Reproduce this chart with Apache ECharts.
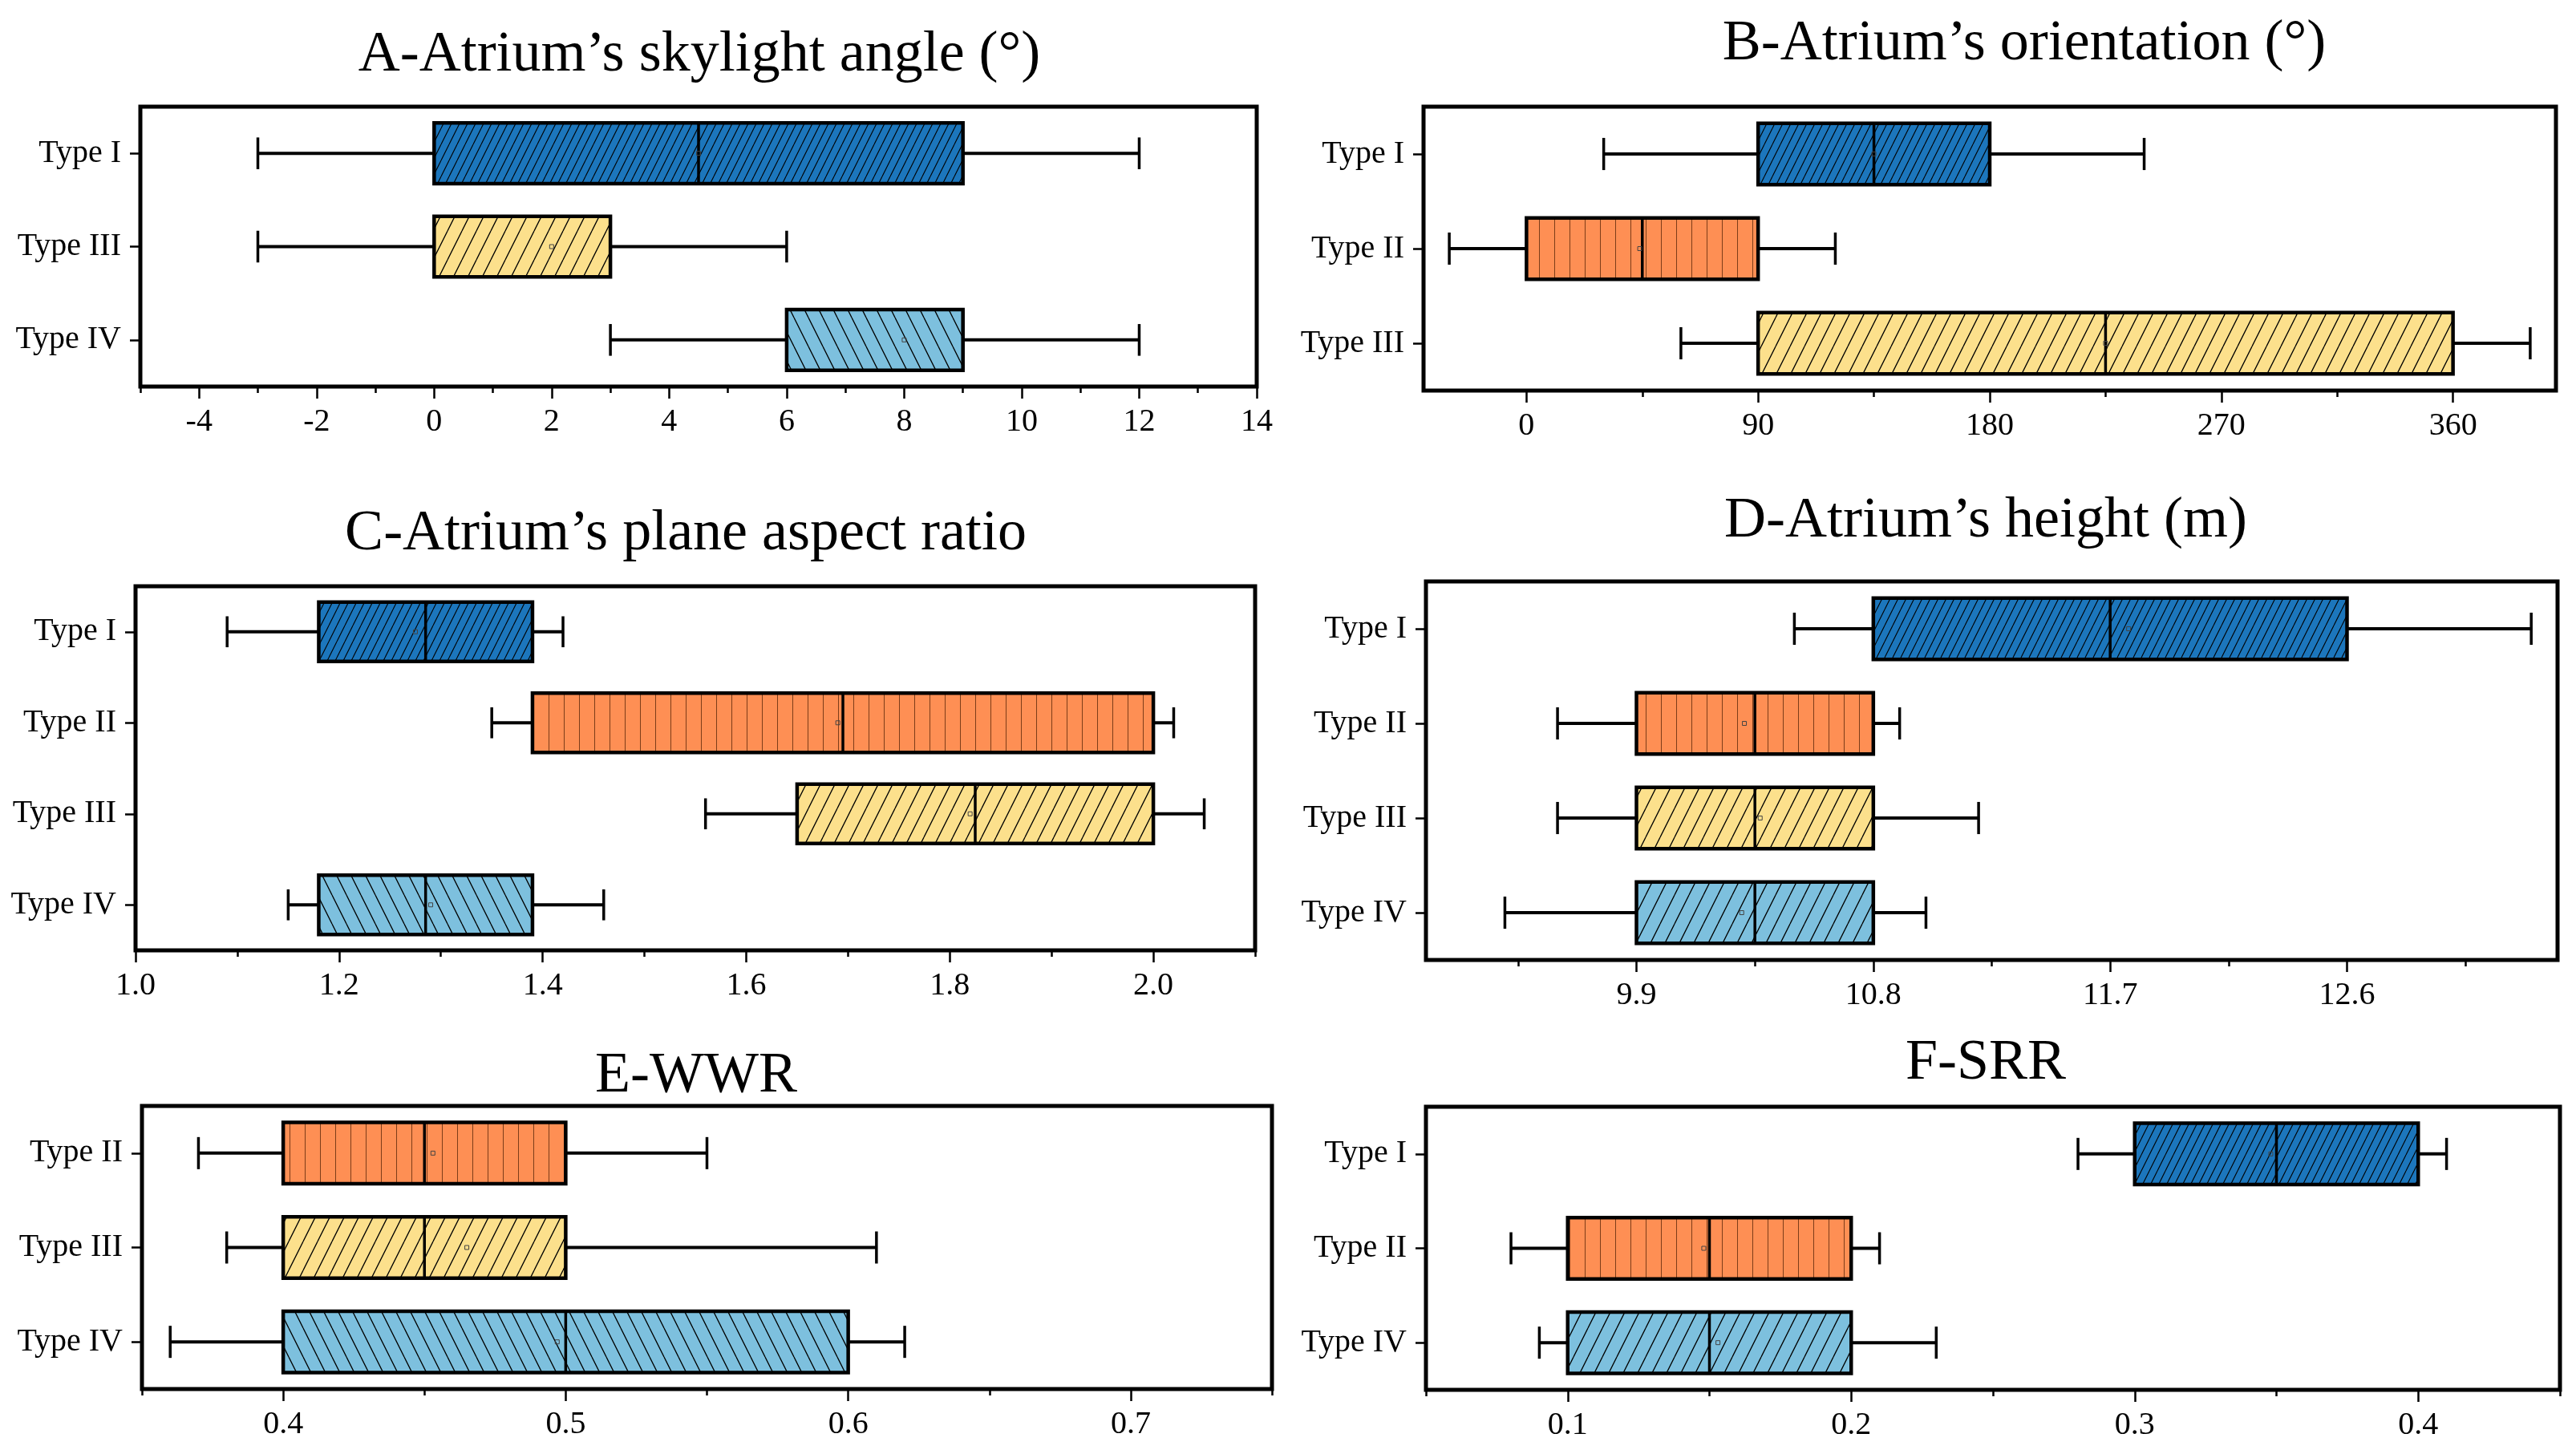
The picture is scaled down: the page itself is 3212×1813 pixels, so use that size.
<!DOCTYPE html>
<html>
<head>
<meta charset="utf-8">
<script src="https://cdn.jsdelivr.net/npm/echarts@6/dist/echarts.min.js"></script>
<style>
html,body{margin:0;padding:0;background:#fff;}
#chart{width:3212px;height:1813px;}
</style>
</head>
<body>
<div id="chart"></div>
<script>
// ---------------- DATA ----------------
// Panel A – Atrium's skylight angle (°)
const A_title = 'A-Atrium’s skylight angle (°)';
const A_types = ['Type I', 'Type III', 'Type IV'];
const A_low    = [-3, -3, 3];
const A_q1     = [0, 0, 6];
const A_median = [4.5, 3, 9];
const A_q3     = [9, 3, 9];
const A_high   = [12, 6, 12];
const A_mean   = [4.5, 2, 8];
const A_range  = [-5, 14];
const A_ticks  = [-4, -2, 0, 2, 4, 6, 8, 10, 12, 14];
const A_minor  = [-5, -3, -1, 1, 3, 5, 7, 9, 11, 13];

// Panel B – Atrium's orientation (°)
const B_title = 'B-Atrium’s orientation (°)';
const B_types = ['Type I', 'Type II', 'Type III'];
const B_low    = [30, -30, 60];
const B_q1     = [90, 0, 90];
const B_median = [135, 45, 225];
const B_q3     = [180, 90, 360];
const B_high   = [240, 120, 390];
const B_mean   = [135, 44, 225];
const B_range  = [-40, 400];
const B_ticks  = [0, 90, 180, 270, 360];
const B_minor  = [45, 135, 225, 315];

// Panel C – Atrium's plane aspect ratio
const C_title = 'C-Atrium’s plane aspect ratio';
const C_types = ['Type I', 'Type II', 'Type III', 'Type IV'];
const C_low    = [1.09, 1.35, 1.56, 1.15];
const C_q1     = [1.18, 1.39, 1.65, 1.18];
const C_median = [1.285, 1.695, 1.825, 1.285];
const C_q3     = [1.39, 2.0, 2.0, 1.39];
const C_high   = [1.42, 2.02, 2.05, 1.46];
const C_mean   = [1.275, 1.69, 1.82, 1.29];
const C_range  = [1.0, 2.1];
const C_ticks  = [1.0, 1.2, 1.4, 1.6, 1.8, 2.0];
const C_minor  = [1.1, 1.3, 1.5, 1.7, 1.9, 2.1];

// Panel D – Atrium's height (m)
const D_title = 'D-Atrium’s height (m)';
const D_types = ['Type I', 'Type II', 'Type III', 'Type IV'];
const D_low    = [10.5, 9.6, 9.6, 9.4];
const D_q1     = [10.8, 9.9, 9.9, 9.9];
const D_median = [11.7, 10.35, 10.35, 10.35];
const D_q3     = [12.6, 10.8, 10.8, 10.8];
const D_high   = [13.3, 10.9, 11.2, 11.0];
const D_mean   = [11.77, 10.31, 10.37, 10.3];
const D_range  = [9.1, 13.4];
const D_ticks  = [9.9, 10.8, 11.7, 12.6];
const D_minor  = [9.45, 10.35, 11.25, 12.15, 13.05];

// Panel E – WWR
const E_title = 'E-WWR';
const E_types = ['Type II', 'Type III', 'Type IV'];
const E_low    = [0.37, 0.38, 0.36];
const E_q1     = [0.4, 0.4, 0.4];
const E_median = [0.45, 0.45, 0.5];
const E_q3     = [0.5, 0.5, 0.6];
const E_high   = [0.55, 0.61, 0.62];
const E_mean   = [0.453, 0.465, 0.497];
const E_range  = [0.35, 0.75];
const E_ticks  = [0.4, 0.5, 0.6, 0.7];
const E_minor  = [0.35, 0.45, 0.55, 0.65, 0.75];

// Panel F – SRR
const F_title = 'F-SRR';
const F_types = ['Type I', 'Type II', 'Type IV'];
const F_low    = [0.28, 0.08, 0.09];
const F_q1     = [0.3, 0.1, 0.1];
const F_median = [0.35, 0.15, 0.15];
const F_q3     = [0.4, 0.2, 0.2];
const F_high   = [0.41, 0.21, 0.23];
const F_mean   = [0.348, 0.148, 0.153];
const F_range  = [0.05, 0.45];
const F_ticks  = [0.1, 0.2, 0.3, 0.4];
const F_minor  = [0.05, 0.15, 0.25, 0.35, 0.45];

// ---------------- STYLE ----------------
const FONT = '"Liberation Serif", "Times New Roman", serif';

// diagonal hatch tile: horizontal period p, slope 2 (about 63 deg)
function hatchCanvas(kind, p, lineColor, lw) {
  const c = document.createElement('canvas');
  const H = (kind === 'vert') ? p : 2 * p;
  c.width = p; c.height = H;
  const g = c.getContext('2d');
  g.strokeStyle = lineColor;
  g.lineWidth = lw;
  g.beginPath();
  if (kind === 'fwd') {
    for (let k = -2; k <= 2; k++) { g.moveTo(k * p, H); g.lineTo(k * p + p, 0); }
  } else if (kind === 'back') {
    for (let k = -2; k <= 2; k++) { g.moveTo(k * p, 0); g.lineTo(k * p + p, H); }
  } else {
    g.moveTo(0.5, 0); g.lineTo(0.5, H);
  }
  g.stroke();
  return c;
}
const PAT = {
  dense: hatchCanvas('fwd', 10, '#000', 1.1),
  fwd: hatchCanvas('fwd', 18, '#000', 1.3),
  back: hatchCanvas('back', 18, '#000', 1.3),
  vert: hatchCanvas('vert', 19, 'rgba(70,25,0,0.7)', 1)
};
const TYPE_STYLE = {
  'Type I':   { color: '#1C76BC', pat: 'dense' },
  'Type II':  { color: '#FE8F54', pat: 'vert' },
  'Type III': { color: '#FCE08C', pat: 'fwd' },
  'Type IV':  { color: '#7DC0DE', pat: 'back' }
};

const panels = [
  { title: A_title, types: A_types, low: A_low, q1: A_q1, med: A_median, q3: A_q3, high: A_high, mean: A_mean,
    range: A_range, ticks: A_ticks, minor: A_minor, ivPat: 'back',
    grid: { left: 175, top: 133, width: 1392, height: 349 }, tx: 872, ty: 69 },
  { title: B_title, types: B_types, low: B_low, q1: B_q1, med: B_median, q3: B_q3, high: B_high, mean: B_mean,
    range: B_range, ticks: B_ticks, minor: B_minor, ivPat: 'back',
    grid: { left: 1775, top: 133, width: 1412, height: 354 }, tx: 2524, ty: 55 },
  { title: C_title, types: C_types, low: C_low, q1: C_q1, med: C_median, q3: C_q3, high: C_high, mean: C_mean,
    range: C_range, ticks: C_ticks, minor: C_minor, ivPat: 'back',
    grid: { left: 169, top: 731, width: 1396, height: 454 }, tx: 855, ty: 666 },
  { title: D_title, types: D_types, low: D_low, q1: D_q1, med: D_median, q3: D_q3, high: D_high, mean: D_mean,
    range: D_range, ticks: D_ticks, minor: D_minor, ivPat: 'fwd',
    grid: { left: 1778, top: 725, width: 1411, height: 472 }, tx: 2476, ty: 650 },
  { title: E_title, types: E_types, low: E_low, q1: E_q1, med: E_median, q3: E_q3, high: E_high, mean: E_mean,
    range: E_range, ticks: E_ticks, minor: E_minor, ivPat: 'back',
    grid: { left: 177, top: 1379, width: 1409, height: 353 }, tx: 868, ty: 1342 },
  { title: F_title, types: F_types, low: F_low, q1: F_q1, med: F_median, q3: F_q3, high: F_high, mean: F_mean,
    range: F_range, ticks: F_ticks, minor: F_minor, ivPat: 'fwd',
    grid: { left: 1778, top: 1380, width: 1414, height: 353 }, tx: 2476, ty: 1326 }
];

function labelFmt(panelIdx) {
  return function (v) {
    if (panelIdx === 2) return Number(v).toFixed(1);
    return String(Math.round(v * 1000) / 1000);
  };
}

function makeRender(panel) {
  return function (params, api) {
    const i = api.value(0);
    const pLo = api.coord([api.value(1), i]);
    const pQ1 = api.coord([api.value(2), i]);
    const pMd = api.coord([api.value(3), i]);
    const pQ3 = api.coord([api.value(4), i]);
    const pHi = api.coord([api.value(5), i]);
    const pMn = api.coord([api.value(6), i]);
    const band = api.size([0, 1])[1];
    const cy = pLo[1];
    const bh = band * 0.65;
    const ch = band * 0.34;
    const tname = panel.types[i];
    const st = TYPE_STYLE[tname];
    const patName = tname === 'Type IV' ? panel.ivPat : st.pat;
    const box = { x: pQ1[0], y: cy - bh / 2, width: pQ3[0] - pQ1[0], height: bh };
    return {
      type: 'group',
      children: [
        { type: 'line', shape: { x1: pLo[0], y1: cy, x2: pQ1[0], y2: cy }, style: { stroke: '#000', lineWidth: 4 } },
        { type: 'line', shape: { x1: pQ3[0], y1: cy, x2: pHi[0], y2: cy }, style: { stroke: '#000', lineWidth: 4 } },
        { type: 'line', shape: { x1: pLo[0], y1: cy - ch / 2, x2: pLo[0], y2: cy + ch / 2 }, style: { stroke: '#000', lineWidth: 3.5 } },
        { type: 'line', shape: { x1: pHi[0], y1: cy - ch / 2, x2: pHi[0], y2: cy + ch / 2 }, style: { stroke: '#000', lineWidth: 3.5 } },
        { type: 'rect', shape: box, style: { fill: st.color } },
        { type: 'rect', shape: box, style: { fill: { image: PAT[patName], repeat: 'repeat' } } },
        { type: 'rect', shape: box, style: { fill: 'none', stroke: '#000', lineWidth: 4.5 } },
        { type: 'line', shape: { x1: pMd[0], y1: cy - bh / 2, x2: pMd[0], y2: cy + bh / 2 }, style: { stroke: '#000', lineWidth: 3.5 } },
        { type: 'rect', shape: { x: pMn[0] - 2.5, y: cy - 2.5, width: 5, height: 5 }, style: { fill: 'none', stroke: '#444', lineWidth: 1 } }
      ]
    };
  };
}

const option = {
  backgroundColor: '#fff',
  animation: false,
  grid: [], xAxis: [], yAxis: [], series: [], graphic: []
};

panels.forEach((p, k) => {
  option.grid.push(Object.assign({ show: true, borderColor: '#000', borderWidth: 5, backgroundColor: 'transparent' }, p.grid));
  option.xAxis.push({
    type: 'value', gridIndex: k, position: 'bottom', min: p.range[0], max: p.range[1],
    axisLine: { show: false, onZero: false },
    splitLine: { show: false },
    axisTick: { show: true, inside: false, length: 15, customValues: p.ticks, lineStyle: { color: '#000', width: 2.5 } },
    axisLabel: { show: true, customValues: p.ticks, margin: 24, fontSize: 40, fontFamily: FONT, color: '#000',
      formatter: labelFmt(k) }
  });
  option.xAxis.push({
    type: 'value', gridIndex: k, position: 'bottom', min: p.range[0], max: p.range[1],
    axisLine: { show: false, onZero: false },
    splitLine: { show: false },
    axisTick: { show: true, inside: false, length: 8, customValues: p.minor, lineStyle: { color: '#000', width: 2.5 } },
    axisLabel: { show: false }
  });
  option.yAxis.push({
    type: 'category', gridIndex: k, data: p.types, inverse: true, position: 'left',
    axisLine: { show: false, onZero: false },
    splitLine: { show: false },
    axisTick: { show: true, alignWithLabel: true, length: 13, lineStyle: { color: '#000', width: 2.5 } },
    axisLabel: { margin: 24, fontSize: 40, fontFamily: FONT, color: '#000' }
  });
  option.series.push({
    type: 'custom', coordinateSystem: 'cartesian2d', xAxisIndex: 2 * k, yAxisIndex: k,
    clip: false,
    renderItem: makeRender(p),
    encode: { x: [1, 2, 3, 4, 5], y: 0 },
    data: p.types.map((t, i) => [i, p.low[i], p.q1[i], p.med[i], p.q3[i], p.high[i], p.mean[i]])
  });
  option.graphic.push({
    type: 'text', x: p.tx, y: p.ty,
    style: { text: p.title, font: '72px ' + FONT, fill: '#000', align: 'center', verticalAlign: 'middle',
      textAlign: 'center', textVerticalAlign: 'middle' }
  });
});

const chart = echarts.init(document.getElementById('chart'), null, { renderer: 'canvas' });
chart.setOption(option);
</script>
</body>
</html>
